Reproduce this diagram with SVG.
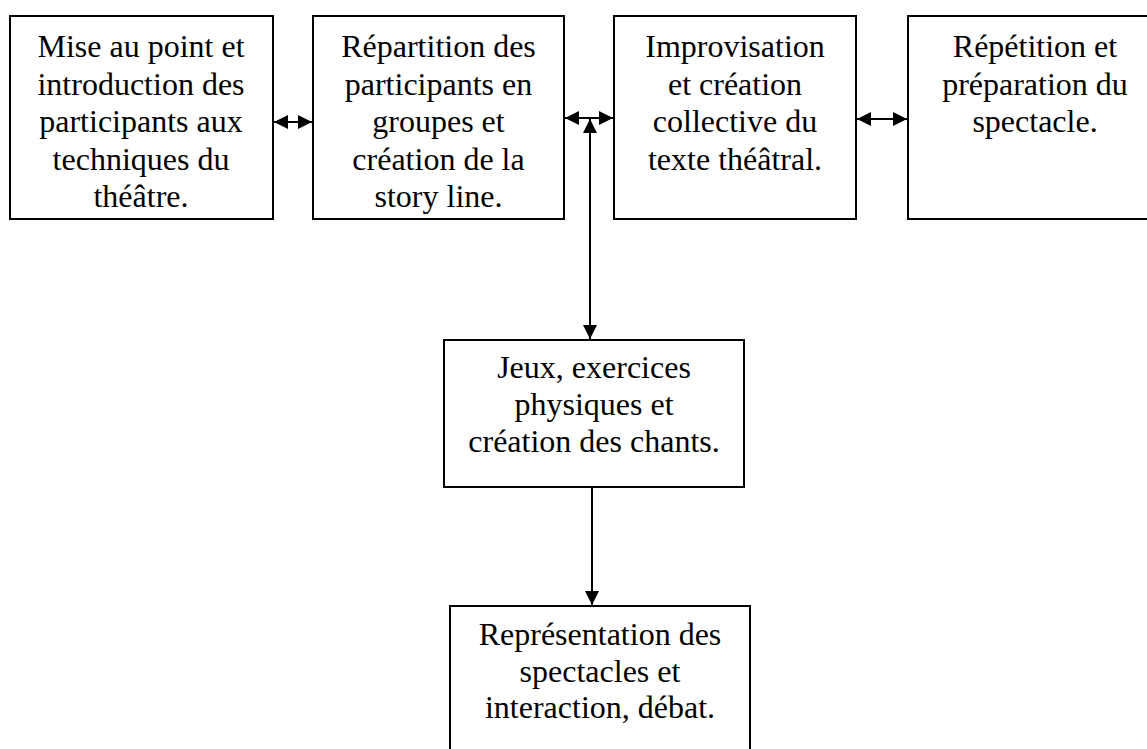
<svg xmlns="http://www.w3.org/2000/svg" width="1147" height="749" viewBox="0 0 1147 749">
<style>
.box{fill:#fff;stroke:#000;stroke-width:2}
.t{font-family:"Liberation Serif","Times New Roman",serif;font-size:32px;fill:#000;text-anchor:middle}
.c{stroke:#000;stroke-width:2;fill:none}
</style>
<defs>
<marker id="ah" markerUnits="userSpaceOnUse" markerWidth="14" markerHeight="14" viewBox="0 0 12 12" refX="12" refY="6" orient="auto-start-reverse">
<path d="M0,0 L12,6 L0,12 Z" fill="#000"/>
</marker>
</defs>
<rect width="1147" height="749" fill="#fff"/>
<g id="n1">
<rect class="box" x="10" y="16" width="263" height="203"/>
<text class="t" x="141" y="57">Mise au point et</text>
<text class="t" x="141" y="95">introduction des</text>
<text class="t" x="141" y="132">participants aux</text>
<text class="t" x="141" y="170">techniques du</text>
<text class="t" x="141" y="207">théâtre.</text>
</g>
<g id="n2">
<rect class="box" x="313" y="16" width="251" height="203"/>
<text class="t" x="438.5" y="57">Répartition des</text>
<text class="t" x="438.5" y="95">participants en</text>
<text class="t" x="438.5" y="132">groupes et</text>
<text class="t" x="438.5" y="170">création de la</text>
<text class="t" x="438.5" y="207">story line.</text>
</g>
<g id="n3">
<rect class="box" x="614" y="16" width="242" height="203"/>
<text class="t" x="735" y="57">Improvisation</text>
<text class="t" x="735" y="95">et création</text>
<text class="t" x="735" y="132">collective du</text>
<text class="t" x="735" y="170">texte théâtral.</text>
</g>
<g id="n4">
<rect class="box" x="908" y="16" width="254" height="203"/>
<text class="t" x="1035" y="57">Répétition et</text>
<text class="t" x="1035" y="95">préparation du</text>
<text class="t" x="1035" y="132">spectacle.</text>
</g>
<g id="n5">
<rect class="box" x="444" y="340" width="300" height="147"/>
<text class="t" x="594" y="378">Jeux, exercices</text>
<text class="t" x="594" y="415">physiques et</text>
<text class="t" x="594" y="452">création des chants.</text>
</g>
<g id="n6">
<rect class="box" x="450" y="606" width="300" height="160"/>
<text class="t" x="600" y="645">Représentation des</text>
<text class="t" x="600" y="682">spectacles et</text>
<text class="t" x="600" y="718">interaction, débat.</text>
</g>
<g id="connectors">
<line class="c" x1="274" y1="122" x2="312" y2="122" marker-start="url(#ah)" marker-end="url(#ah)"/>
<line class="c" x1="565" y1="118" x2="613" y2="118" marker-start="url(#ah)" marker-end="url(#ah)"/>
<line class="c" x1="857" y1="119" x2="907" y2="119" marker-start="url(#ah)" marker-end="url(#ah)"/>
<line class="c" x1="590" y1="119" x2="590" y2="339" marker-start="url(#ah)" marker-end="url(#ah)"/>
<line class="c" x1="592" y1="488" x2="592" y2="605" marker-end="url(#ah)"/>
</g>
</svg>
